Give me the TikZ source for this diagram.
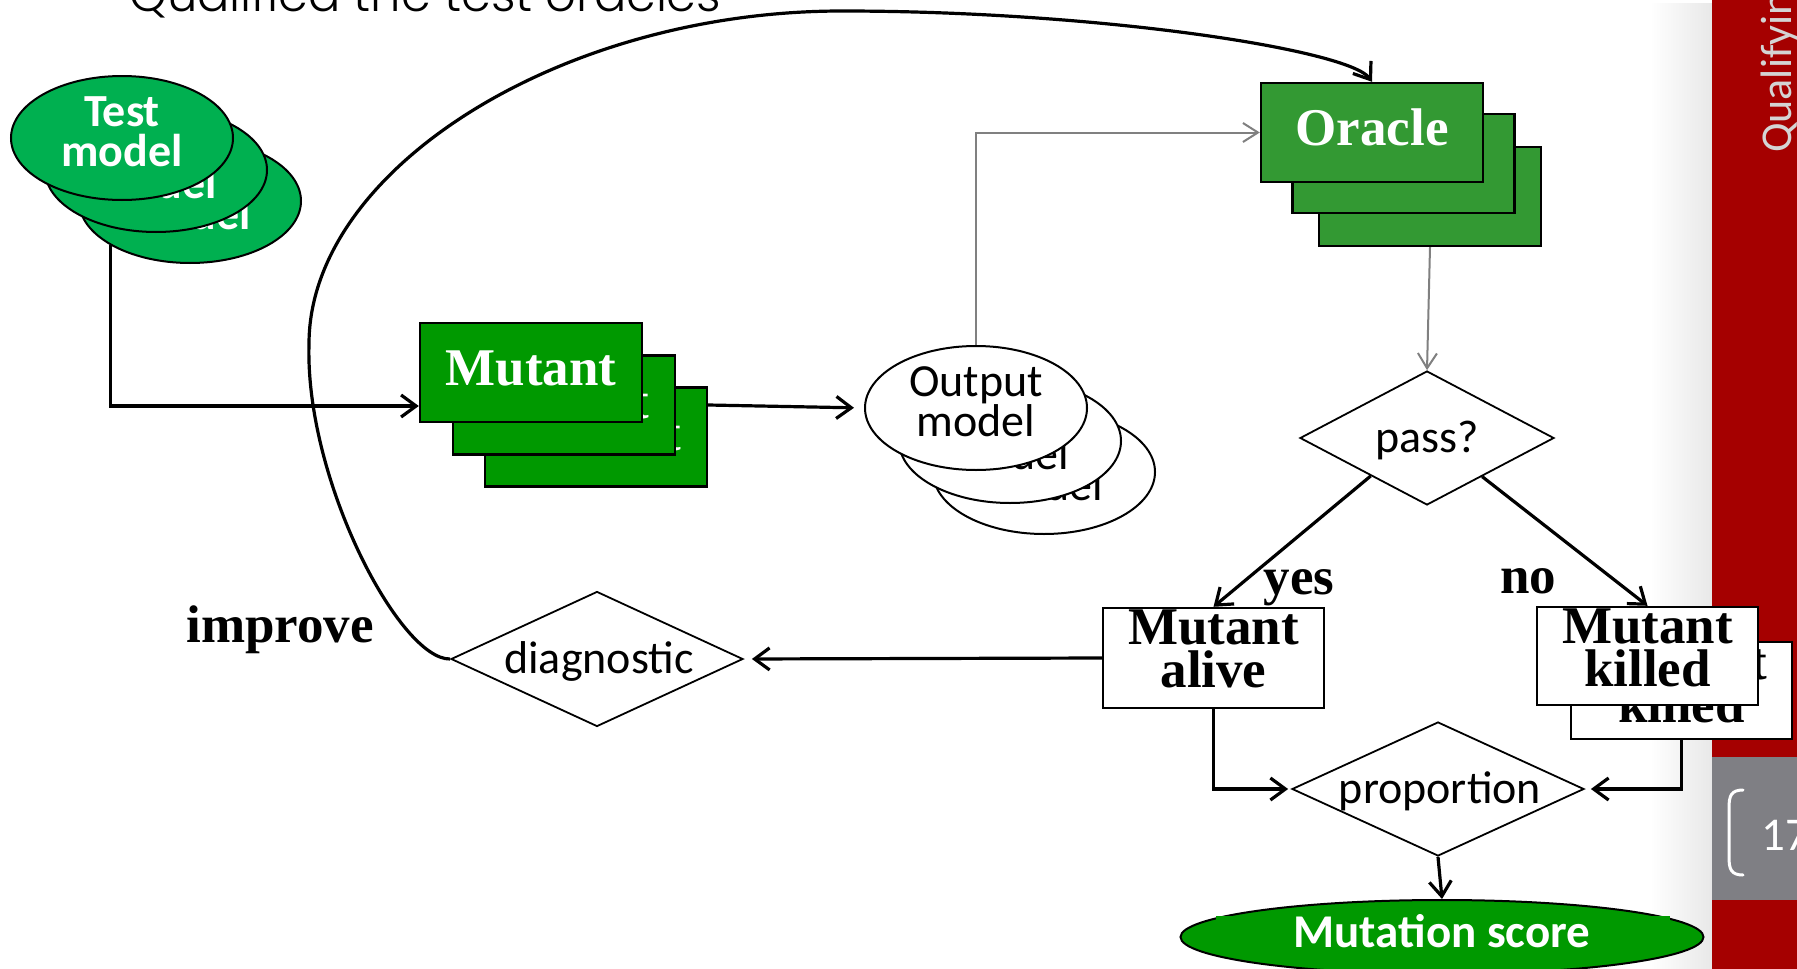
\documentclass[tikz,border=0pt]{standalone}
\usepackage{fontspec}
\usetikzlibrary{shapes.geometric,arrows.meta,fadings}
\newfontfamily\calfont{Carlito}
\newfontfamily\timesfont{Liberation Serif}
\IfFontExistsTF{Poppins Light}{\newfontfamily\themefont{Poppins Light}}{\newfontfamily\themefont{Poppins}}

\definecolor{tmgreen}{HTML}{00B050}
\definecolor{mutgreen}{HTML}{009900}
\definecolor{oragreen}{HTML}{339933}
\definecolor{sidered}{HTML}{A50000}
\definecolor{numgray}{HTML}{7F7F84}
\definecolor{linegray}{HTML}{808080}
\definecolor{sidetext}{HTML}{D4D4D4}

% soft grey glow towards the slide corners
\pgfdeclareradialshading{slideglow}{\pgfpoint{0bp}{0bp}}{color(0bp)=(white); color(18bp)=(white); color(25bp)=(black!14); color(50bp)=(black!14)}
\tikzfading[name=tobar, left color=transparent!100, right color=transparent!0]

\tikzset{
  modelshape/.style={ellipse, draw=black, line width=2pt, minimum width=222pt, minimum height=124pt, inner sep=0pt},
  testmodel/.style={modelshape, fill=tmgreen},
  outmodel/.style={modelshape, fill=white},
  card/.style={rectangle, draw=black, line width=2.4pt, minimum width=222pt, minimum height=99pt, inner sep=0pt},
  decision/.style={diamond, draw=black, line width=1.8pt, fill=white, inner sep=0pt},
  calibri/.style={font=\calfont\fontsize{46}{40}\selectfont},
  calibribold/.style={font=\calfont\bfseries\fontsize{46}{40}\selectfont},
  timesbold/.style={font=\timesfont\bfseries\fontsize{53}{43}\selectfont},
  txt/.style={inner sep=0pt, align=center},
  conn/.style={draw=black, line width=3.2pt, -{Straight Barb[length=15pt,width=22pt]}},
  gconn/.style={draw=linegray, line width=2pt, -{Straight Barb[length=15pt,width=19pt]}},
}

\begin{document}
\begin{tikzpicture}[x=1pt,y=-1pt]
\useasboundingbox (0,0) rectangle (1797,969);
\clip (0,0) rectangle (1797,969);

% slide background
\fill[white] (0,0) rectangle (1797,969);
\begin{scope}
  \clip (0,0) rectangle (1712,969);
  \shade[shading=slideglow] (850,200) circle (2400);
\end{scope}
\fill[black, opacity=0.09, path fading=tobar] (1650,0) rectangle (1712,969);

% side bar with section title and page number
\fill[sidered] (1712,0) rectangle (1797,969);
\fill[numgray] (1712,757) rectangle (1797,900);
\node[rotate=90, anchor=north west, inner sep=0pt, text=sidetext,
      font=\calfont\fontsize{44}{44}\selectfont] (side) at (1761,153) {Qualifying};
\draw[white, line width=3pt, line cap=round]
  (1743,790) .. controls (1731,790) and (1729,796) .. (1729,808) -- (1729,857)
  .. controls (1729,869) and (1731,875) .. (1743,875);
\node[anchor=base west, inner sep=0pt, text=white,
      font=\calfont\fontsize{47}{47}\selectfont] (pgnum) at (1761,850) {17};

% slide title
\node[anchor=base west, inner sep=0pt, font=\themefont\fontsize{48}{48}\selectfont]
  (title) at (129,11) {Qualified the test oracles};

% test models
\node[testmodel] (tm3) at (190,201) {};
\node[txt, calibribold, text=white] (tm3t) at (190,195) {Test\\model};
\node[testmodel] (tm2) at (156,170) {};
\node[txt, calibribold, text=white] (tm2t) at (156,164) {Test\\model};
\node[testmodel] (tm1) at (122,138) {};
\node[txt, calibribold, text=white] (tm1t) at (122,132) {Test\\model};

% mutants
\node[card, fill=mutgreen] (mut3) at (596,437) {};
\node[txt, timesbold, text=white, anchor=base] (mut3t) at (596,450) {Mutant};
\node[card, fill=mutgreen] (mut2) at (564,405) {};
\node[txt, timesbold, text=white, anchor=base] (mut2t) at (564,418) {Mutant};
\node[card, fill=mutgreen] (mut1) at (531,372.5) {};
\node[txt, timesbold, text=white, anchor=base] (mut1t) at (531,385) {Mutant};

% output models
\node[outmodel] (out3) at (1044,472) {};
\node[txt, calibri] (out3t) at (1044,466) {Output\\model};
\node[outmodel] (out2) at (1010,441) {};
\node[txt, calibri] (out2t) at (1010,435) {Output\\model};
\node[outmodel] (out1) at (976,408) {};
\node[txt, calibri] (out1t) at (976,402) {Output\\model};

% oracles
\node[card, fill=oragreen] (ora3) at (1430,196.5) {};
\node[card, fill=oragreen] (ora2) at (1403.5,163.5) {};
\node[card, fill=oragreen] (ora1) at (1372,132.5) {};
\node[txt, timesbold, text=white, anchor=base] (ora1t) at (1372,145) {Oracle};

% verdict
\node[decision, minimum width=254pt, minimum height=134pt] (pass) at (1427,438) {};
\node[txt, calibri, anchor=base] (passt) at (1427,452) {pass?};

\node[card, fill=white, minimum width=221pt, minimum height=100pt] (alive) at (1213.5,658) {};
\node[txt, timesbold] (alivet) at (1213.5,649) {Mutant\\alive};

\node[card, fill=white, minimum width=221pt, minimum height=97pt] (killed2) at (1681.5,690.5) {};
\node[txt, timesbold] (killed2t) at (1681.5,684) {Mutant\\killed};
\node[card, fill=white, minimum width=221pt, minimum height=98pt] (killed1) at (1647.5,656) {};
\node[txt, timesbold] (killed1t) at (1647.5,647.5) {Mutant\\killed};

\node[txt, timesbold, anchor=base] (yes) at (1299,594) {yes};
\node[txt, timesbold, anchor=base] (no) at (1528,593) {no};

% diagnostic and score
\node[decision, minimum width=292pt, minimum height=135pt] (diag) at (597,659) {};
\node[txt, calibri, anchor=base] (diagt) at (599,673) {diagnostic};
\node[txt, timesbold, anchor=base] (improve) at (280,642) {improve};

\node[decision, minimum width=292pt, minimum height=134pt] (prop) at (1438,789) {};
\node[txt, calibri, anchor=base] (propt) at (1440,803) {proportion};

\node[ellipse, draw=black, line width=2pt, fill=mutgreen, minimum width=523pt,
      minimum height=74pt, inner sep=0pt] (mscore) at (1442,937) {};
\fill[mutgreen] (1216,916) rectangle (1670,952);
\node[txt, calibribold, text=white, anchor=base, font=\calfont\bfseries\fontsize{47}{40}\selectfont]
  (mscoret) at (1442,947) {Mutation score};

% connectors
\draw[conn] (tm3.209) |- ([yshift=-33.5pt]mut1.west);
\draw[conn, shorten >=10pt] ([yshift=32pt]mut3.east) -- (out1.west);
\draw[gconn] (out1.north) |- (ora1.west);
\draw[gconn] (ora3.south) -- (pass.north);
\draw[conn] (pass.214) -- (alive.north);
\draw[conn] (pass.-35) -- (killed1.north);
\draw[conn, shorten >=8pt] (alive.west) -- (diag.east);
\draw[conn] (diag.west) .. controls (400,660) and (305,480) .. (309,344)
  .. controls (309,170) and (560,11) .. (842,11)
  .. controls (1100,11) and (1350,50) .. (ora1.north);
\draw[conn, shorten >=3pt] (alive.south) |- (prop.west);
\draw[conn, shorten >=6pt] (killed2.south) |- (prop.east);
\draw[conn] (prop.south) -- (mscore.north);
\end{tikzpicture}
\end{document}
